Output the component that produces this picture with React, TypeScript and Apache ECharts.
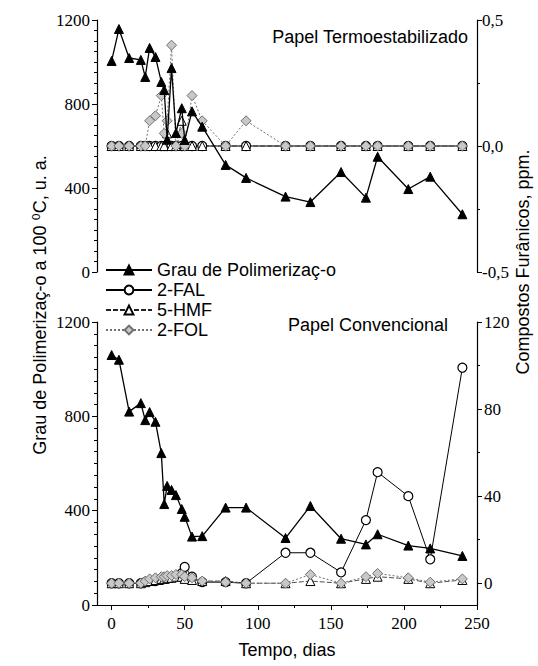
import React, { useEffect, useRef } from "react";
import * as echarts from "echarts";

const days = [0, 5, 12, 20, 23, 26, 30, 34, 36, 38, 41, 44, 48, 50, 55, 62, 78, 92, 119, 136, 157, 174, 182, 203, 218, 240];

// Papel Termoestabilizado (top panel)
const topDP = [1005, 1157, 1019, 1010, 929, 1067, 1024, 905, 867, 630, 971, 662, 780, 629, 765, 692, 510, 448, 359, 333, 476, 354, 549, 395, 454, 275];
const topFAL = [0, 0, 0, 0, 0, 0, 0, 0, 0, 0, 0, 0, 0, 0, 0, 0, 0, 0, 0, 0, 0, 0, 0, 0, 0, 0];
const topHMF = [0, 0, 0, 0, 0, 0, 0, 0, 0, 0.05, 0, 0, 0.1, 0, 0, 0, 0, 0, 0, 0, 0, 0, 0, 0, 0, 0];
const topFOL = [0, 0, 0, 0, 0, 0.1, 0.12, 0.2, 0.05, 0.1, 0.4, 0, 0.05, 0, 0.2, 0.1, 0, 0.1, 0, 0, 0, 0, 0, 0, 0, 0];

// Papel Convencional (bottom panel)
const botDP = [1060, 1040, 820, 856, 784, 818, 777, 644, 428, 505, 488, 466, 407, 374, 290, 292, 413, 413, 284, 420, 281, 257, 300, 252, 240, 208];
const botFAL = [0, 0, 0, 0, 0.5, 1, 1, 1.5, 2, 2, 2.5, 3, 4.6, 7.5, 3, 0.5, 0.5, 0, 14, 14, 5, 29, 51, 40, 11, 99];
const botHMF = [0, 0, 0, 0, 0.5, 1, 1.5, 2, 2, 2.5, 2.5, 3, 3, 2, 1.5, 1, 1, 0, 0, 1, 0, 2, 3, 2, 0, 1.5];
const botFOL = [0, 0, 0, 0, 1, 2, 2.5, 3, 3, 3.5, 3.5, 4, 4, 3, 2.5, 1, 0.5, 0, 0, 4, 0, 3, 4.5, 2.5, 0.5, 2];

const xTicks = [0, 50, 100, 150, 200, 250];
const xMinorTicks = [25, 75, 125, 175, 225];
const rightBotTicks = [0, 40, 80, 120];
const rightBotMinor = [20, 60, 100];

const names = ["Grau de Polimerizaç-o", "2-FAL", "5-HMF", "2-FOL"];

const pairs = (vals: number[]) => days.map((d, i) => [d, vals[i]]);

const SERIF = "'Liberation Serif', 'Times New Roman', serif";
const SANS = "'Liberation Sans', Arial, 'DejaVu Sans', sans-serif";

export default function App() {
  const ref = useRef<HTMLDivElement>(null);
  useEffect(() => {
    document.body.style.margin = "0";
    const chart = echarts.init(ref.current!, null, { renderer: "svg" });

    const axisLine = { show: true, onZero: false, lineStyle: { color: "#000", width: 1.2 } };
    const tickLabel = { color: "#000", fontSize: 17, fontFamily: SERIF };

    const leftY = (gridIndex: number) => ({
      type: "value",
      gridIndex,
      position: "left",
      min: 0,
      max: 1200,
      interval: 400,
      axisLine,
      axisTick: { show: true, inside: false, length: 5, lineStyle: { color: "#000" } },
      minorTick: { show: true, splitNumber: 8, length: 3, lineStyle: { color: "#000" } },
      axisLabel: { ...tickLabel, margin: 7, formatter: (v: number) => String(v) },
      splitLine: { show: false },
    });

    const styles = [
      {
        symbol: "triangle",
        symbolSize: 9,
        itemStyle: { color: "#000", borderColor: "#000", borderWidth: 1 },
        lineStyle: { color: "#000", width: 1.3 },
        z: 5,
      },
      {
        symbol: "circle",
        symbolSize: 9,
        itemStyle: { color: "#fff", borderColor: "#000", borderWidth: 1.2 },
        lineStyle: { color: "#000", width: 1 },
        z: 3,
      },
      {
        symbol: "triangle",
        symbolSize: 9,
        itemStyle: { color: "#fff", borderColor: "#000", borderWidth: 1 },
        lineStyle: { color: "#222", width: 0.8, type: [5, 2] },
        z: 3,
      },
      {
        symbol: "diamond",
        symbolSize: 10,
        itemStyle: { color: "#c8c8c8", borderColor: "#707070", borderWidth: 1 },
        lineStyle: { color: "#707070", width: 1, type: [2, 2] },
        z: 4,
      },
    ];

    const mk = (name: number, vals: number[], xi: number, yi: number) => ({
      type: "line",
      name: names[name],
      data: pairs(vals),
      xAxisIndex: xi,
      yAxisIndex: yi,
      showAllSymbol: true,
      ...styles[name],
    });

    chart.setOption({
      animation: false,
      backgroundColor: "#fff",
      grid: [
        { left: 97, top: 20, width: 380, height: 252 },
        { left: 97, top: 322, width: 380, height: 283 },
      ],
      xAxis: [
        {
          type: "value",
          gridIndex: 0,
          min: -10,
          max: 250,
          axisLine: { show: false },
          axisTick: { show: false },
          axisLabel: { show: false },
          splitLine: { show: false },
        },
        {
          type: "value",
          gridIndex: 1,
          min: -10,
          max: 250,
          position: "bottom",
          axisLine,
          axisTick: { show: true, length: 5, customValues: xTicks, lineStyle: { color: "#000" } },
          axisLabel: { ...tickLabel, margin: 10, customValues: xTicks },
          splitLine: { show: false },
          name: "Tempo, dias",
          nameLocation: "middle",
          nameGap: 36,
          nameTextStyle: { color: "#000", fontSize: 18, fontFamily: SANS },
        },
        {
          type: "value",
          gridIndex: 1,
          min: -10,
          max: 250,
          position: "bottom",
          axisLine: { show: false, onZero: false },
          axisTick: { show: true, length: 3, customValues: xMinorTicks, lineStyle: { color: "#000" } },
          axisLabel: { show: false },
          splitLine: { show: false },
        },
      ],
      yAxis: [
        leftY(0),
        {
          type: "value",
          gridIndex: 0,
          position: "right",
          min: -0.5,
          max: 0.5,
          interval: 0.5,
          axisLine,
          axisTick: { show: true, length: 5, lineStyle: { color: "#000" } },
          minorTick: { show: true, splitNumber: 2, length: 3, lineStyle: { color: "#000" } },
          axisLabel: {
            ...tickLabel,
            margin: 5,
            formatter: (v: number) => v.toFixed(1).replace(".", ","),
          },
          splitLine: { show: false },
        },
        leftY(1),
        {
          type: "value",
          gridIndex: 1,
          position: "right",
          min: -10,
          max: 120,
          axisLine,
          axisTick: { show: true, length: 5, customValues: rightBotTicks, lineStyle: { color: "#000" } },
          axisLabel: { ...tickLabel, margin: 7, customValues: rightBotTicks },
          splitLine: { show: false },
        },
        {
          type: "value",
          gridIndex: 1,
          position: "right",
          min: -10,
          max: 120,
          axisLine: { show: false, onZero: false },
          axisTick: { show: true, length: 3, customValues: rightBotMinor, lineStyle: { color: "#000" } },
          axisLabel: { show: false },
          splitLine: { show: false },
        },
      ],
      legend: {
        orient: "vertical",
        left: 100,
        top: 256,
        itemWidth: 46,
        itemHeight: 11,
        itemGap: 2,
        selectedMode: false,
        data: names,
        textStyle: { color: "#000", fontSize: 18, fontFamily: SANS, lineHeight: 18 },
      },
      graphic: [
        {
          type: "text",
          x: 468,
          y: 37,
          style: {
            text: "Papel Termoestabilizado",
            fill: "#000",
            font: `18px ${SANS}`,
            textAlign: "right",
            textVerticalAlign: "middle",
          },
        },
        {
          type: "text",
          x: 448,
          y: 325,
          style: {
            text: "Papel Convencional",
            fill: "#000",
            font: `18px ${SANS}`,
            textAlign: "right",
            textVerticalAlign: "middle",
          },
        },
        {
          type: "text",
          x: 40,
          y: 305,
          rotation: Math.PI / 2,
          style: {
            text: "Grau de Polimerizaç-o a 100 ⁰C, u. a.",
            fill: "#000",
            font: `18px ${SANS}`,
            textAlign: "center",
            textVerticalAlign: "middle",
          },
        },
        {
          type: "text",
          x: 523,
          y: 262,
          rotation: Math.PI / 2,
          style: {
            text: "Compostos Furânicos, ppm.",
            fill: "#000",
            font: `18px ${SANS}`,
            textAlign: "center",
            textVerticalAlign: "middle",
          },
        },
      ],
      series: [
        mk(1, topFAL, 0, 1),
        mk(2, topHMF, 0, 1),
        mk(3, topFOL, 0, 1),
        mk(0, topDP, 0, 0),
        mk(1, botFAL, 1, 3),
        mk(2, botHMF, 1, 3),
        mk(3, botFOL, 1, 3),
        mk(0, botDP, 1, 2),
      ],
    });
    return () => chart.dispose();
  }, []);
  return <div ref={ref} style={{ width: 538, height: 666 }} />;
}
